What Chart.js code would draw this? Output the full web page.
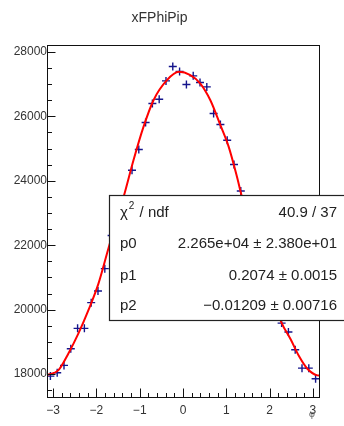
<!DOCTYPE html>
<html>
<head>
<meta charset="utf-8">
<script src="https://cdn.jsdelivr.net/npm/chart.js@4/dist/chart.umd.min.js"></script>
<style>
html, body { margin: 0; padding: 0; background: #fff; }
</style>
</head>
<body>
<canvas id="fitChart" width="344" height="426"></canvas>
<script>
// histogram bin centres (40 bins over -pi..pi) and contents
const binCenters = [-3.063, -2.906, -2.749, -2.592, -2.435, -2.278, -2.121, -1.964, -1.806, -1.649,
                    -1.492, -1.335, -1.178, -1.021, -0.864, -0.707, -0.550, -0.393, -0.236, -0.079,
                     0.079,  0.236,  0.393,  0.550,  0.707,  0.864,  1.021,  1.178,  1.335,  1.492,
                     1.649,  1.806,  1.964,  2.121,  2.278,  2.435,  2.592,  2.749,  2.906,  3.063];
const binCounts = [17938, 18043, 18270, 18789, 19420, 19420, 20218, 20578, 21273, 22300,
                   22900, 23300, 24327, 24970, 25809, 26399, 26532, 27100, 27548, 27393,
                   26989, 27256, 27051, 26914, 26088, 25746, 25259, 24504, 23684, 23000,
                   22300, 21500, 20800, 20200, 19584, 19305, 18758, 18186, 18186, 17857];

// fit curve
const fitX = [-3.1416, -2.882, -2.650, -2.418, -2.187, -1.955, -1.723, -1.360, -1.144, -0.913,
              -0.681, -0.371, -0.093, 0.169, 0.400, 0.632, 0.864, 1.056, 1.251, 1.350,
              1.700, 2.000, 2.270, 2.486, 2.678, 2.872, 3.104, 3.1416];
const fitY = [17975, 18115, 18634, 19255, 19979, 20800, 21900, 23560, 24637, 25672,
              26501, 27122, 27380, 27277, 27018, 26501, 25724, 25051, 24100, 23560,
              21950, 20650, 19615, 19080, 18560, 18168, 17960, 17955];

const xTicks = [-3, -2, -1, 0, 1, 2, 3];
const yTicks = [18000, 20000, 22000, 24000, 26000, 28000];

// stats box rows
const statNames = ['p0', 'p1', 'p2'];
const statValues = ['40.9 / 37', '2.265e+04 \u00b1 2.380e+01', '0.2074 \u00b1 0.0015', '\u22120.01209 \u00b1 0.00716'];

const FONT = "'Liberation Sans', Arial, Helvetica, sans-serif";

function minusSign(v) {
    return v < 0 ? '\u2212' + Math.abs(v) : String(v);
}

// frame, inner ticks, stats box and axis title, drawn like ROOT does
const rootDecor = {
    id: 'rootDecor',
    afterDraw(chart) {
        const ctx = chart.ctx;
        const a = chart.chartArea;
        const xs = chart.scales.x;
        const ys = chart.scales.y;
        const L = Math.round(a.left) + 0.5, R = Math.round(a.right) + 0.5;
        const T = Math.round(a.top) + 0.5, B = Math.round(a.bottom) + 0.5;

        ctx.save();
        ctx.strokeStyle = '#111';
        ctx.lineWidth = 1;
        ctx.strokeRect(L, T, R - L, B - T);

        // x ticks, every 0.2, majors on integers
        ctx.beginPath();
        for (let i = -15; i <= 15; i++) {
            const px = Math.round(xs.getPixelForValue(i / 5)) + 0.5;
            const len = i % 5 === 0 ? 9 : 4.5;
            ctx.moveTo(px, B);
            ctx.lineTo(px, B - len);
        }
        // y ticks, every 500, majors every 2000
        for (let v = 17500; v <= 28000; v += 500) {
            const py = Math.round(ys.getPixelForValue(v)) + 0.5;
            const len = v % 2000 === 0 ? 8 : 4.5;
            ctx.moveTo(L, py);
            ctx.lineTo(L + len, py);
        }
        ctx.stroke();

        // axis title
        ctx.fillStyle = '#555';
        ctx.font = '9px ' + FONT;
        ctx.textAlign = 'center';
        ctx.textBaseline = 'middle';
        ctx.fillText('\u03c6', 312, 415);

        // stats box
        const bx = 109.5, by = 195.5, bw = 260, bh = 125;
        ctx.fillStyle = '#fff';
        ctx.fillRect(bx, by, bw, bh);
        ctx.strokeStyle = '#222';
        ctx.lineWidth = 1.2;
        ctx.strokeRect(bx, by, bw, bh);

        const rows = [212.5, 243.5, 275.5, 306];
        ctx.fillStyle = '#222';
        ctx.font = '15px ' + FONT;
        ctx.textBaseline = 'middle';
        ctx.textAlign = 'left';
        // chi^2 / ndf
        ctx.fillText('\u03c7', 120, rows[0]);
        let w = ctx.measureText('\u03c7').width;
        ctx.font = '10px ' + FONT;
        ctx.fillText('2', 121 + w, rows[0] - 6);
        const w2 = ctx.measureText('2').width;
        ctx.font = '15px ' + FONT;
        ctx.fillText(' / ndf', 122 + w + w2, rows[0]);
        statNames.forEach((n, i) => ctx.fillText(n, 120, rows[i + 1]));
        ctx.textAlign = 'right';
        statValues.forEach((s, i) => ctx.fillText(s, 337, rows[i]));
        ctx.restore();
    }
};

const ctx = document.getElementById('fitChart').getContext('2d');
new Chart(ctx, {
    type: 'scatter',
    data: {
        datasets: [{
            label: 'fit',
            data: fitX.map((x, i) => ({ x: x, y: fitY[i] })),
            showLine: true,
            borderColor: '#ff0000',
            borderWidth: 2,
            pointRadius: 0,
            cubicInterpolationMode: 'monotone',
            order: 0
        }, {
            label: 'xFPhiPip',
            data: binCenters.map((x, i) => ({ x: x, y: binCounts[i] })),
            pointStyle: 'cross',
            pointRadius: 4,
            borderColor: '#14148c',
            borderWidth: 1.4,
            order: 1
        }]
    },
    options: {
        responsive: false,
        animation: false,
        layout: { padding: { left: 0, right: 25, top: 0, bottom: 0 } },
        plugins: {
            legend: { display: false },
            tooltip: { enabled: false },
            title: {
                display: true,
                text: 'xFPhiPip',
                color: '#333',
                font: { family: FONT, size: 14, weight: 'normal' },
                padding: { top: 10, bottom: 18 }
            }
        },
        scales: {
            x: {
                type: 'linear',
                min: -Math.PI,
                max: Math.PI,
                grid: { display: false, drawTicks: false },
                border: { display: false },
                afterBuildTicks: s => { s.ticks = xTicks.map(v => ({ value: v })); },
                afterFit: s => { s.height = 29; },
                ticks: {
                    padding: 6,
                    color: '#333',
                    font: { family: FONT, size: 12 },
                    maxRotation: 0,
                    callback: v => minusSign(v)
                }
            },
            y: {
                min: 17290,
                max: 28220,
                grid: { display: false, drawTicks: false },
                border: { display: false },
                afterBuildTicks: s => { s.ticks = yTicks.map(v => ({ value: v })); },
                afterFit: s => { s.width = 47; },
                ticks: {
                    padding: 0,
                    color: '#333',
                    font: { family: FONT, size: 12 },
                    callback: v => String(v)
                }
            }
        }
    },
    plugins: [rootDecor]
});
</script>
</body>
</html>
